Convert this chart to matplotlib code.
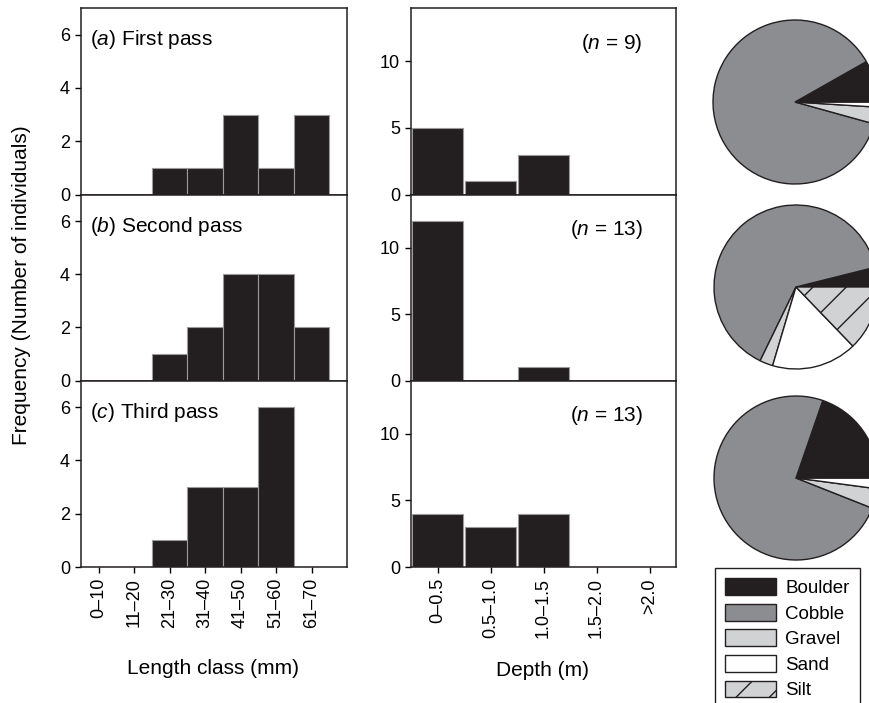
import matplotlib.pyplot as plt
from matplotlib.patches import Patch

plt.rcParams['font.family'] = ['Liberation Sans', 'DejaVu Sans']
plt.rcParams['mathtext.fontset'] = 'custom'
plt.rcParams['mathtext.rm'] = 'Liberation Sans'
plt.rcParams['mathtext.it'] = 'Liberation Sans:italic'
plt.rcParams['font.size'] = 13
plt.rcParams['hatch.linewidth'] = 1.0

# Data
length_classes = ['0–10', '11–20', '21–30', '31–40', '41–50', '51–60', '61–70']
depth_classes = ['0–0.5', '0.5–1.0', '1.0–1.5', '1.5–2.0', '>2.0']
pass_letters = ['a', 'b', 'c']
pass_names = ['First pass', 'Second pass', 'Third pass']
n_fish = [9, 13, 13]

length_first = [0, 0, 1, 1, 3, 1, 3]
length_second = [0, 0, 1, 2, 4, 4, 2]
length_third = [0, 0, 1, 3, 3, 6, 0]

depth_first = [5, 1, 3, 0, 0]
depth_second = [12, 0, 1, 0, 0]
depth_third = [4, 3, 4, 0, 0]

substrates = ['Boulder', 'Cobble', 'Gravel', 'Sand', 'Silt']
substrate_first = [8.2, 87.5, 3.3, 1.0, 0.0]
substrate_second = [3.9, 63.9, 2.6, 16.8, 12.8]
substrate_third = [19.7, 74.3, 3.9, 2.1, 0.0]

length_counts = [length_first, length_second, length_third]
depth_counts = [depth_first, depth_second, depth_third]
substrate_pct = [substrate_first, substrate_second, substrate_third]

sub_colors = ['#231f20', '#8c8d90', '#d1d2d4', '#ffffff', '#d1d2d4']
sub_hatch = [None, None, None, None, '/']
dark = '#231f20'
big = 15

W, H = 869, 703
fig = plt.figure(figsize=(W / 100, H / 100), dpi=100)


def px_axes(x0, y0, x1, y1):
    # pixel box (top-left origin) -> figure axes
    return fig.add_axes([x0 / W, 1 - y1 / H, (x1 - x0) / W, (y1 - y0) / H])


tops = [8, 194.5, 380.5]
bots = [194.5, 380.5, 567]

for i in range(3):
    # length histogram
    ax = px_axes(81, tops[i], 347, bots[i])
    ax.bar(range(len(length_classes)), length_counts[i], width=1.0,
           color=dark, edgecolor='#9a9a9a', linewidth=0.8)
    ax.set_xlim(-0.5, 7.0)
    ax.set_ylim(0, 7)
    ax.set_yticks([0, 2, 4, 6])
    ax.set_xticks(range(len(length_classes)))
    if i == 2:
        ax.set_xticklabels(length_classes, rotation=90)
    else:
        ax.set_xticklabels([])
    ax.tick_params(direction='out', length=4, width=1, pad=4)
    for s in ax.spines.values():
        s.set_linewidth(1.1)
        s.set_color(dark)
    ax.text(0.035, 0.83, f'($\\mathit{{{pass_letters[i]}}}$) {pass_names[i]}',
            transform=ax.transAxes, va='center', ha='left', fontsize=big)

    # depth histogram
    ax2 = px_axes(411, tops[i], 676, bots[i])
    ax2.bar(range(len(depth_classes)), depth_counts[i], width=0.97,
            color=dark, edgecolor='#9a9a9a', linewidth=0.8)
    ax2.set_xlim(-0.5, 4.5)
    ax2.set_ylim(0, 14)
    ax2.set_yticks([0, 5, 10])
    ax2.set_xticks(range(len(depth_classes)))
    if i == 2:
        ax2.set_xticklabels(depth_classes, rotation=90)
    else:
        ax2.set_xticklabels([])
    ax2.tick_params(direction='out', length=4, width=1, pad=4)
    for s in ax2.spines.values():
        s.set_linewidth(1.1)
        s.set_color(dark)
    ax2.text(0.875, 0.81, f'($\\mathit{{n}}$ = {n_fish[i]})',
             transform=ax2.transAxes, va='center', ha='right', fontsize=big)

# substrate pies, partly cut off at the right edge
centres = [(795, 102), (796, 287), (796, 478)]
r = 82 * 1.03
for (cx, cy), pct in zip(centres, substrate_pct):
    axp = px_axes(cx - r, cy - r, cx + r, cy + r)
    wedges, _ = axp.pie(pct, colors=sub_colors, startangle=0, counterclock=True,
                        wedgeprops=dict(edgecolor=dark, linewidth=1.0))
    for w, h in zip(wedges, sub_hatch):
        if h:
            w.set_hatch(h)
    axp.set_xlim(-1.03, 1.03)
    axp.set_ylim(-1.03, 1.03)
    axp.set_aspect('equal')
    axp.axis('off')

handles = [Patch(facecolor=c, edgecolor=dark, hatch=h, linewidth=1.0)
           for c, h in zip(sub_colors, sub_hatch)]
leg = fig.legend(handles, substrates, loc='upper left',
                 bbox_to_anchor=(715 / W, 1 - 568 / H), borderaxespad=0,
                 fancybox=False, framealpha=1, edgecolor=dark,
                 handlelength=2.7, handleheight=1.0, handletextpad=0.5,
                 labelspacing=0.36, borderpad=0.55, fontsize=13.5)
leg.get_frame().set_linewidth(1.0)

fig.text(22 / W, 1 - 285 / H, 'Frequency (Number of individuals)',
         rotation=90, ha='center', va='center', fontsize=big)
fig.text(213 / W, 1 - 668 / H, 'Length class (mm)', ha='center', va='center',
         fontsize=big)
fig.text(543 / W, 1 - 671 / H, 'Depth (m)', ha='center', va='center',
         fontsize=big)

fig.savefig('out.png', dpi=100)
